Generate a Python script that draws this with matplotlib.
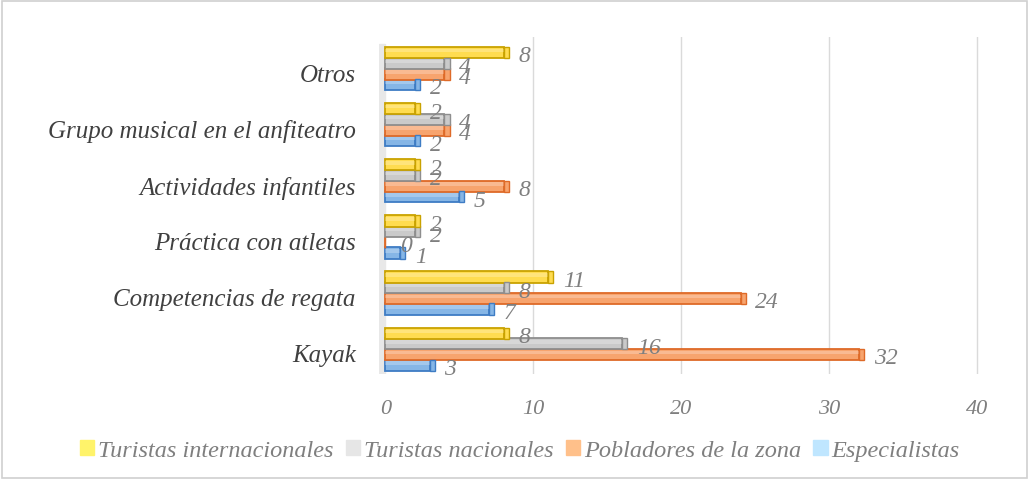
import matplotlib.pyplot as plt
import numpy as np
from matplotlib.patches import Rectangle, Patch

categorias = ['Kayak', 'Competencias de regata', 'Práctica con atletas',
              'Actividades infantiles', 'Grupo musical en el anfiteatro', 'Otros']
especialistas = [3, 7, 1, 5, 2, 2]
pobladores = [32, 24, 0, 8, 4, 4]
nacionales = [16, 8, 2, 2, 4, 4]
internacionales = [8, 11, 2, 2, 2, 8]

series = [
    ('Especialistas', especialistas, '#86B6E6', '#3E7CC4', '#BFE6FF'),
    ('Pobladores de la zona', pobladores, '#F7A46E', '#DE6A28', '#FFC08A'),
    ('Turistas nacionales', nacionales, '#CACACA', '#8E8E8E', '#E6E6E6'),
    ('Turistas internacionales', internacionales, '#FFDC50', '#C9A200', '#FFF36A'),
]
offsets = [-0.22, -0.03, 0.16, 0.35]
h = 0.2

plt.rcParams['font.family'] = ['Liberation Serif', 'DejaVu Serif']

fig = plt.figure(figsize=(10.29, 4.81), dpi=100)
fig.patches.append(Rectangle((0.002, 0.004), 0.996, 0.992, transform=fig.transFigure,
                             fill=False, edgecolor='#D0D0D0', linewidth=1.2))
ax = fig.add_axes([0.3686, 0.22, 0.587, 0.70])

y = np.arange(len(categorias))
gray = '#7F7F7F'

# pared izquierda y rejilla
ax.axvspan(-0.4, 0, ymin=0.0, ymax=0.98, color='#E8E8E8', zorder=0)
for gx in [10, 20, 30, 40]:
    ax.axvline(gx, color='#DADADA', linewidth=1, zorder=0)

for (name, vals, fc, ec, lc), off in zip(series, offsets):
    yy = y + off
    ax.barh(yy, vals, height=h, color=fc, edgecolor=ec, linewidth=1.3, zorder=3)
    # cara superior clara (efecto 3D)
    ax.barh(yy + h * 0.18, vals, height=h * 0.3, color='white', alpha=0.25,
            linewidth=0, zorder=4)
    # tapa del extremo
    ax.barh(yy, [0.35 if v > 0 else 0 for v in vals], left=vals, height=h,
            color=fc, edgecolor=ec, linewidth=1.0, zorder=4)
    for v, yv in zip(vals, yy):
        ax.text(v + 1.0, yv - 0.06, str(v), ha='left', va='center', color=gray,
                fontsize=17, style='italic', zorder=5)

ax.set_xlim(-0.4, 40.4)
ax.set_ylim(-0.38, 5.62)
ax.set_xticks([0, 10, 20, 30, 40])
ax.set_yticks(y)
ax.set_yticklabels(categorias, fontsize=18, style='italic', color='#404040')
ax.tick_params(axis='x', length=0, pad=18, labelsize=16, labelcolor=gray)
ax.tick_params(axis='y', length=0, pad=17)
for lab in ax.get_xticklabels():
    lab.set_style('italic')
for s in ax.spines.values():
    s.set_visible(False)

handles = [Patch(facecolor=lc, edgecolor=lc) for (_, _, _, _, lc) in series][::-1]
labels = [s[0] for s in series][::-1]
leg = fig.legend(handles, labels, loc='center', bbox_to_anchor=(0.505, 0.062), ncol=4,
                 frameon=False, handlelength=0.6, handleheight=0.6, handletextpad=0.15,
                 columnspacing=0.5, prop={'size': 17.5, 'style': 'italic'})
for t in leg.get_texts():
    t.set_color(gray)

fig.savefig('out.png', dpi=100)
